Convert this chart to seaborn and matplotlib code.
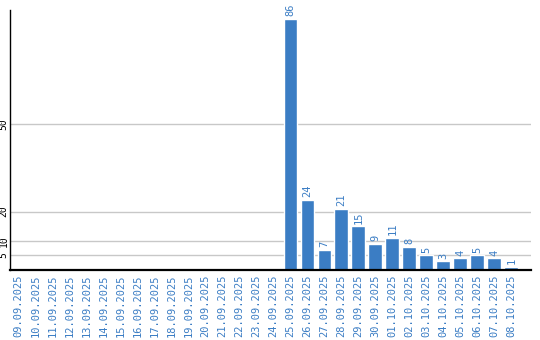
import matplotlib
matplotlib.use("Agg")
import matplotlib.pyplot as plt
import seaborn as sns
import pandas as pd

dates = ["09.09.2025", "10.09.2025", "11.09.2025", "12.09.2025", "13.09.2025",
         "14.09.2025", "15.09.2025", "16.09.2025", "17.09.2025", "18.09.2025",
         "19.09.2025", "20.09.2025", "21.09.2025", "22.09.2025", "23.09.2025",
         "24.09.2025", "25.09.2025", "26.09.2025", "27.09.2025", "28.09.2025",
         "29.09.2025", "30.09.2025", "01.10.2025", "02.10.2025", "03.10.2025",
         "04.10.2025", "05.10.2025", "06.10.2025", "07.10.2025", "08.10.2025"]
values = [0, 0, 0, 0, 0, 0, 0, 0, 0, 0, 0, 0, 0, 0, 0, 0,
          86, 24, 7, 21, 15, 9, 11, 8, 5, 3, 4, 5, 4, 1]
yticks = [5, 10, 20, 50]

sns.set_style("white")
plt.rcParams['font.family'] = ['DejaVu Sans Mono', 'DejaVu Sans']

BLUE = "#3b7dc4"
df = pd.DataFrame({"date": dates, "value": values})

fig = plt.figure(figsize=(5.4, 3.4), dpi=100)
ax = fig.add_axes([10 / 540, 70 / 340, (531 - 10) / 540, (270 - 10) / 340])
sns.barplot(data=df, x="date", y="value", color=BLUE, saturation=1,
            width=0.82, ax=ax, zorder=3)

ax.set_xlim(-0.5, 30.15)
ax.set_ylim(0, 89)
ax.set_yticks(yticks)
ax.set_yticklabels([str(t) for t in yticks], rotation=90, va="center",
                   fontsize=7, color="black")
ax.yaxis.grid(True, color="#c8c8c8", linewidth=1, zorder=0)
ax.tick_params(axis="y", length=0, pad=1)
ax.tick_params(axis="x", length=0, pad=3)
ax.set_xticks(range(len(dates)))
ax.set_xticklabels(dates, rotation=90, fontsize=7.5, color=BLUE, va="top")
ax.set_xlabel("")
ax.set_ylabel("")

for s in ["top", "right"]:
    ax.spines[s].set_visible(False)
ax.spines["left"].set_color("black")
ax.spines["left"].set_linewidth(1)
ax.spines["bottom"].set_color("black")
ax.spines["bottom"].set_linewidth(1.6)
ax.spines["bottom"].set_zorder(5)

for i, v in enumerate(values):
    if v > 0:
        ax.text(i, v + 0.9, str(v), rotation=90, ha="center", va="bottom",
                fontsize=7.5, color=BLUE)

fig.savefig("out.png", dpi=100)
